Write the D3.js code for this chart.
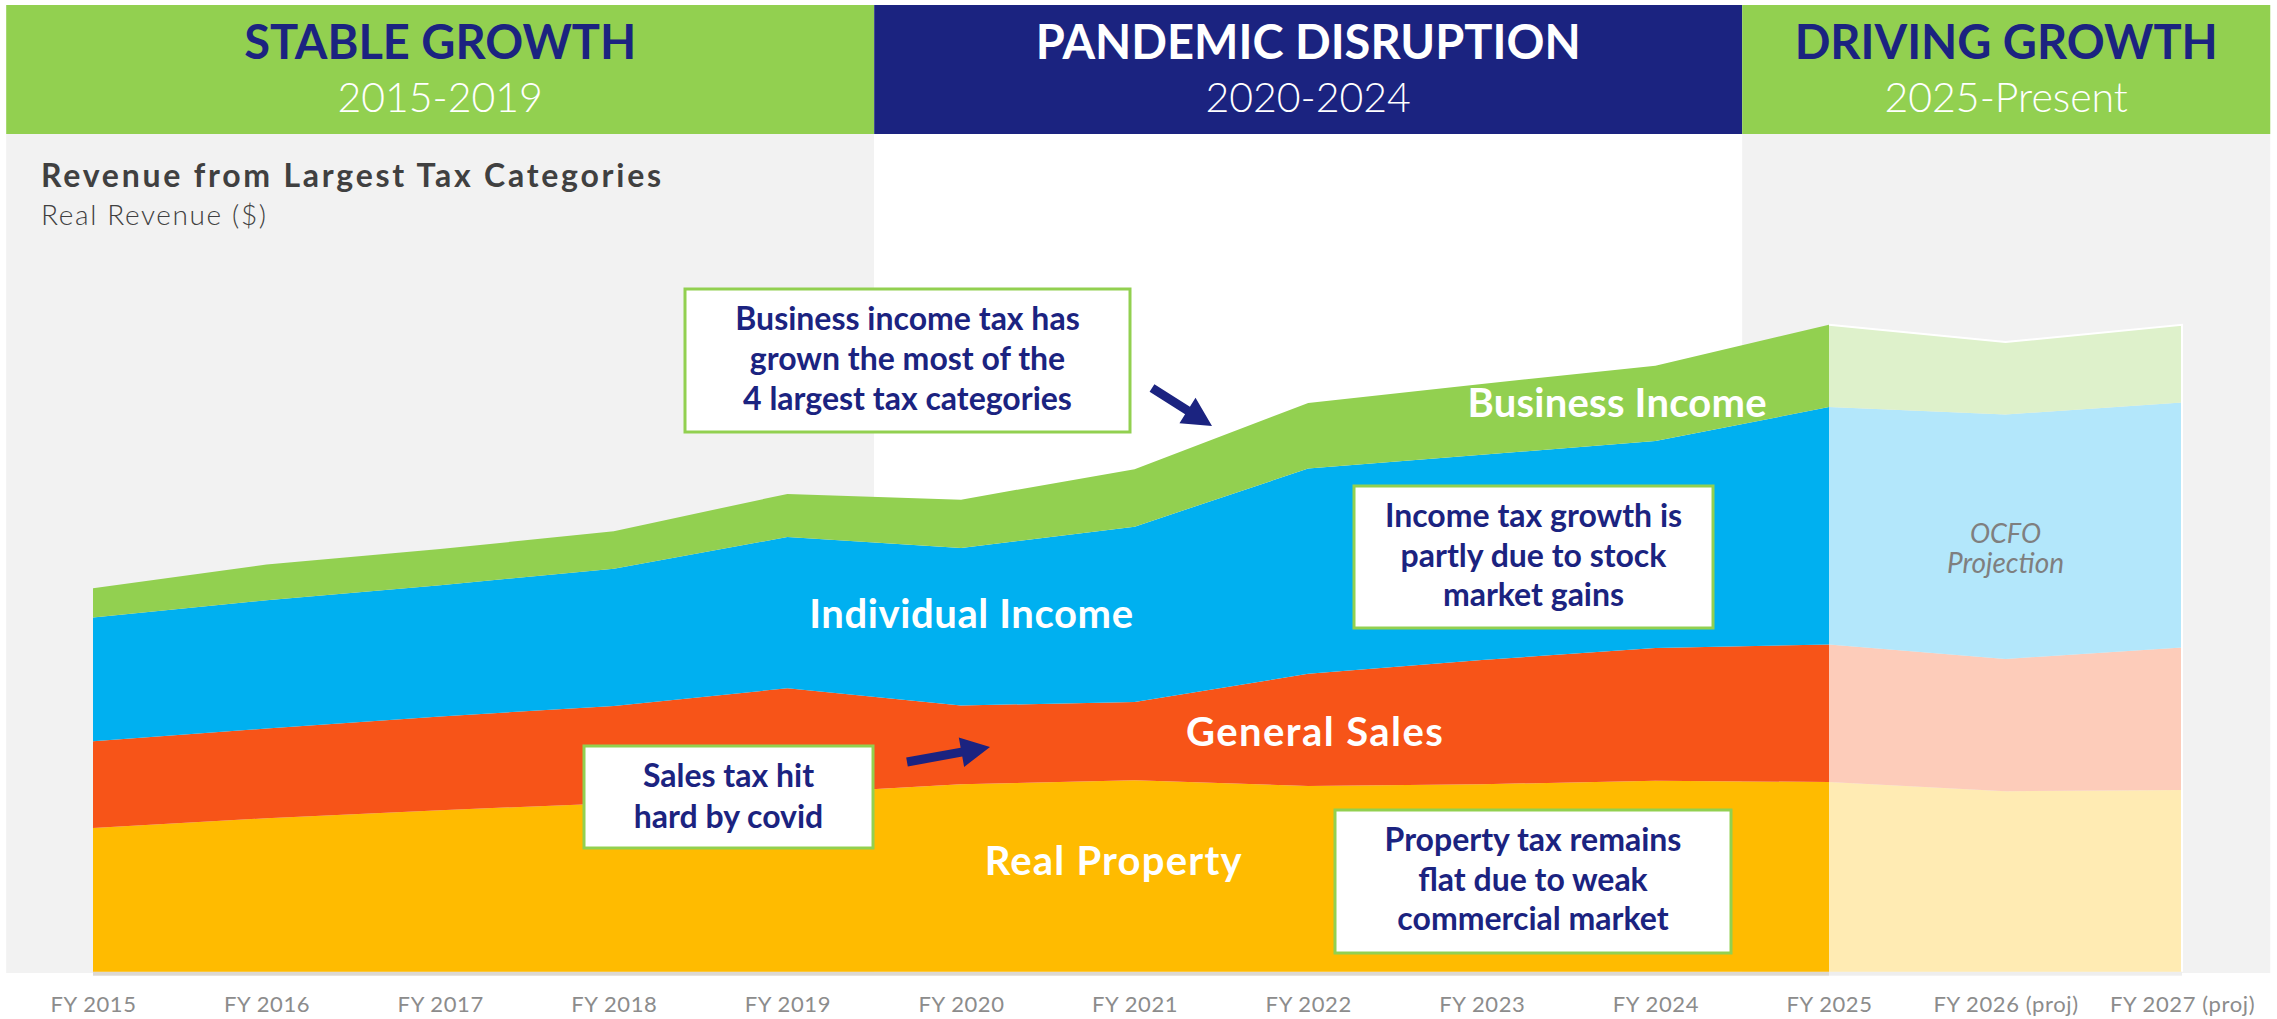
<!DOCTYPE html>
<html>
<head>
<meta charset="utf-8">
<script src="https://cdn.jsdelivr.net/npm/d3@7"></script>
<style>
  body { margin: 0; background: #fff; }
  svg { display: block; font-family: Lato, "Open Sans", sans-serif; }
</style>
</head>
<body>
<div id="chart"></div>
<script>
// fiscal years on the x axis
var years = [2015, 2016, 2017, 2018, 2019, 2020, 2021, 2022, 2023, 2024, 2025, 2026, 2027];
var yearLabels = ["FY 2015", "FY 2016", "FY 2017", "FY 2018", "FY 2019", "FY 2020", "FY 2021",
                  "FY 2022", "FY 2023", "FY 2024", "FY 2025", "FY 2026 (proj)", "FY 2027 (proj)"];
var lastActual = 2025; // after this the values are OCFO projections

// real revenue, $ billions (no axis shown)
var realProperty     = [2.50, 2.67, 2.81, 2.93, 3.09, 3.26, 3.33, 3.23, 3.26, 3.32, 3.30, 3.14, 3.16];
var generalSales     = [1.51, 1.56, 1.63, 1.69, 1.84, 1.37, 1.36, 1.95, 2.16, 2.31, 2.39, 2.30, 2.48];
var individualIncome = [2.15, 2.23, 2.28, 2.39, 2.63, 2.74, 3.05, 3.57, 3.57, 3.60, 4.13, 4.25, 4.26];
var businessIncome   = [0.51, 0.62, 0.63, 0.65, 0.75, 0.84, 1.00, 1.14, 1.23, 1.31, 1.43, 1.26, 1.35];

var seriesKeys  = ["realProperty", "generalSales", "individualIncome", "businessIncome"];
var seriesNames = ["Real Property", "General Sales", "Individual Income", "Business Income"];

// the three periods in the header
var periodTitles = ["STABLE GROWTH", "PANDEMIC DISRUPTION", "DRIVING GROWTH"];
var periodRanges = ["2015-2019", "2020-2024", "2025-Present"];
var periodFrom   = [2014.5, 2019.5, 2024.5];
var periodTo     = [2019.5, 2024.5, 2027.5];

// colours
var green = "#92d050", navy = "#1b2380", grayBg = "#f2f2f2";
var layerColors = ["#ffbb00", "#f75418", "#00b0f0", "#92d050"];
var fadedColors = layerColors.map(c => d3.interpolateRgb(c, "#fff")(0.7));
var headFill  = [green, navy, green];
var headTitle = [navy, "#fff", navy];
var panelFill = [grayBg, "#fff", grayBg];

var W = 2277, H = 1019;
var top0 = 5, headH = 129, panelBottom = 973, base = 971.7;

var svg = d3.select("#chart").append("svg")
    .attr("width", W)
    .attr("height", H);

// widen a text to a given width with letter spacing (the original font is wider than Lato)
function spread(t, target) {
  var n = t.text().length;
  var len = t.node().getComputedTextLength();
  if (n > 1) t.attr("letter-spacing", ((target - len) / (n - 1)).toFixed(2));
  return t;
}

// x: actual years and projection years are laid out slightly differently
var x = d3.scaleLinear()
    .domain([2015, 2025, 2027])
    .range([93, 1829, 2182]);

var y = d3.scaleLinear()
    .domain([0, 12])
    .range([base, base - 690]);

// period panels + header bands
periodTitles.forEach((t, i) => {
  var x0 = x(periodFrom[i]), x1 = x(periodTo[i]);
  svg.append("rect")
      .attr("x", x0).attr("y", top0 + headH)
      .attr("width", x1 - x0).attr("height", panelBottom - top0 - headH)
      .attr("fill", panelFill[i]);
  svg.append("rect")
      .attr("x", x0).attr("y", top0)
      .attr("width", x1 - x0).attr("height", headH)
      .attr("fill", headFill[i]);
  svg.append("text")
      .attr("x", (x0 + x1) / 2).attr("y", 59)
      .attr("text-anchor", "middle")
      .attr("font-size", 47).attr("font-weight", 700)
      .attr("fill", headTitle[i])
      .text(t);
  svg.append("text")
      .attr("x", (x0 + x1) / 2).attr("y", 112)
      .attr("text-anchor", "middle")
      .attr("font-size", 41).attr("font-weight", 300)
      .attr("fill", "#fff")
      .text(periodRanges[i]);
});

// chart title
spread(svg.append("text")
    .attr("x", 41).attr("y", 187)
    .attr("font-size", 32).attr("font-weight", 700)
    .attr("fill", "#404040")
    .text("Revenue from Largest Tax Categories"), 620);
spread(svg.append("text")
    .attr("x", 41).attr("y", 225)
    .attr("font-size", 28).attr("font-weight", 300)
    .attr("fill", "#404040")
    .text("Real Revenue ($)"), 225);

// stacked areas
var rows = years.map((yr, i) => ({
  year: yr,
  realProperty: realProperty[i],
  generalSales: generalSales[i],
  individualIncome: individualIncome[i],
  businessIncome: businessIncome[i]
}));
var layers = d3.stack().keys(seriesKeys)(rows);

var area = d3.area()
    .x(d => x(d.data.year))
    .y0(d => y(d[0]))
    .y1(d => y(d[1]));

// soft shadow under the base line
svg.append("rect")
    .attr("x", x(2015)).attr("y", base)
    .attr("width", x(lastActual) - x(2015)).attr("height", 4)
    .attr("fill", "#dcd8d2");
svg.append("rect")
    .attr("x", x(lastActual)).attr("y", base)
    .attr("width", x(2027) - x(lastActual)).attr("height", 4)
    .attr("fill", "#eeeeee");

layers.forEach((layer, k) => {
  svg.append("path")
      .datum(layer.filter(d => d.data.year <= lastActual))
      .attr("fill", layerColors[k])
      .attr("d", area);
  svg.append("path")
      .datum(layer.filter(d => d.data.year >= lastActual))
      .attr("fill", fadedColors[k])
      .attr("d", area);
});

// white outline round the projection block
var topLayer = layers[layers.length - 1].filter(d => d.data.year >= lastActual);
var outline = d3.line().x(d => x(d.data.year)).y(d => y(d[1]));
svg.append("path")
    .attr("d", outline(topLayer) + "L" + x(2027) + "," + base)
    .attr("fill", "none")
    .attr("stroke", "#fff")
    .attr("stroke-width", 2);

// series labels, placed in data space
var labelYear  = [2020.88, 2022.04, 2020.06, 2023.78];
var labelValue = [1.68, 3.93, 5.98, 9.65];
var labelWidth = [257, 257, 324, 299];
seriesNames.forEach((n, k) => {
  spread(svg.append("text")
      .attr("x", x(labelYear[k])).attr("y", y(labelValue[k]))
      .attr("text-anchor", "middle")
      .attr("font-size", 40).attr("font-weight", 700)
      .attr("fill", "#fff")
      .text(n), labelWidth[k]);
});

// projection note
svg.append("text")
    .attr("x", x(2026)).attr("y", 543)
    .attr("text-anchor", "middle")
    .attr("font-size", 27).attr("font-style", "italic")
    .attr("fill", "#7f7f7f")
    .text("OCFO");
svg.append("text")
    .attr("x", x(2026)).attr("y", 573)
    .attr("text-anchor", "middle")
    .attr("font-size", 28).attr("font-style", "italic")
    .attr("fill", "#7f7f7f")
    .text("Projection");

// call-out boxes
var notes = [
  {x0: 685, y0: 289, x1: 1130, y1: 432, first: 330, step: 40,
   lines: ["Business income tax has", "grown the most of the", "4 largest tax categories"]},
  {x0: 1354, y0: 486, x1: 1713, y1: 628, first: 527, step: 39.5,
   lines: ["Income tax growth is", "partly due to stock", "market gains"]},
  {x0: 584, y0: 746, x1: 873, y1: 848, first: 787, step: 41,
   lines: ["Sales tax hit", "hard by covid"]},
  {x0: 1335, y0: 810, x1: 1731, y1: 953, first: 851, step: 39.5,
   lines: ["Property tax remains", "flat due to weak", "commercial market"]}
];
notes.forEach(n => {
  svg.append("rect")
      .attr("x", n.x0).attr("y", n.y0)
      .attr("width", n.x1 - n.x0).attr("height", n.y1 - n.y0)
      .attr("fill", "#fff")
      .attr("stroke", green).attr("stroke-width", 3);
  n.lines.forEach((l, i) => {
    svg.append("text")
        .attr("x", (n.x0 + n.x1) / 2).attr("y", n.first + i * n.step)
        .attr("text-anchor", "middle")
        .attr("font-size", 32).attr("font-weight", 700)
        .attr("fill", navy)
        .text(l);
  });
});

// arrows
function arrow(x0, y0, x1, y1) {
  var a = Math.atan2(y1 - y0, x1 - x0), len = Math.hypot(x1 - x0, y1 - y0);
  var head = 29, hw = 15, sw = 4.5;
  var pts = [[0, -sw], [len - head, -sw], [len - head, -hw], [len, 0],
             [len - head, hw], [len - head, sw], [0, sw]];
  svg.append("path")
      .attr("d", d3.line()(pts) + "Z")
      .attr("transform", "translate(" + x0 + "," + y0 + ") rotate(" + (a * 180 / Math.PI) + ")")
      .attr("fill", navy);
}
arrow(1152, 388, 1212, 426);
arrow(907, 762, 990, 747);

// x axis
var axis = svg.append("g")
    .attr("transform", "translate(0,996)")
    .call(d3.axisBottom(x).tickValues(years).tickFormat((d, i) => yearLabels[i]).tickSize(0).tickPadding(0));
axis.select(".domain").remove();
axis.selectAll("text")
    .attr("font-size", 22)
    .attr("font-family", "Lato, sans-serif")
    .attr("letter-spacing", 0.6)
    .attr("fill", "#8c8c8c");
</script>
</body>
</html>
